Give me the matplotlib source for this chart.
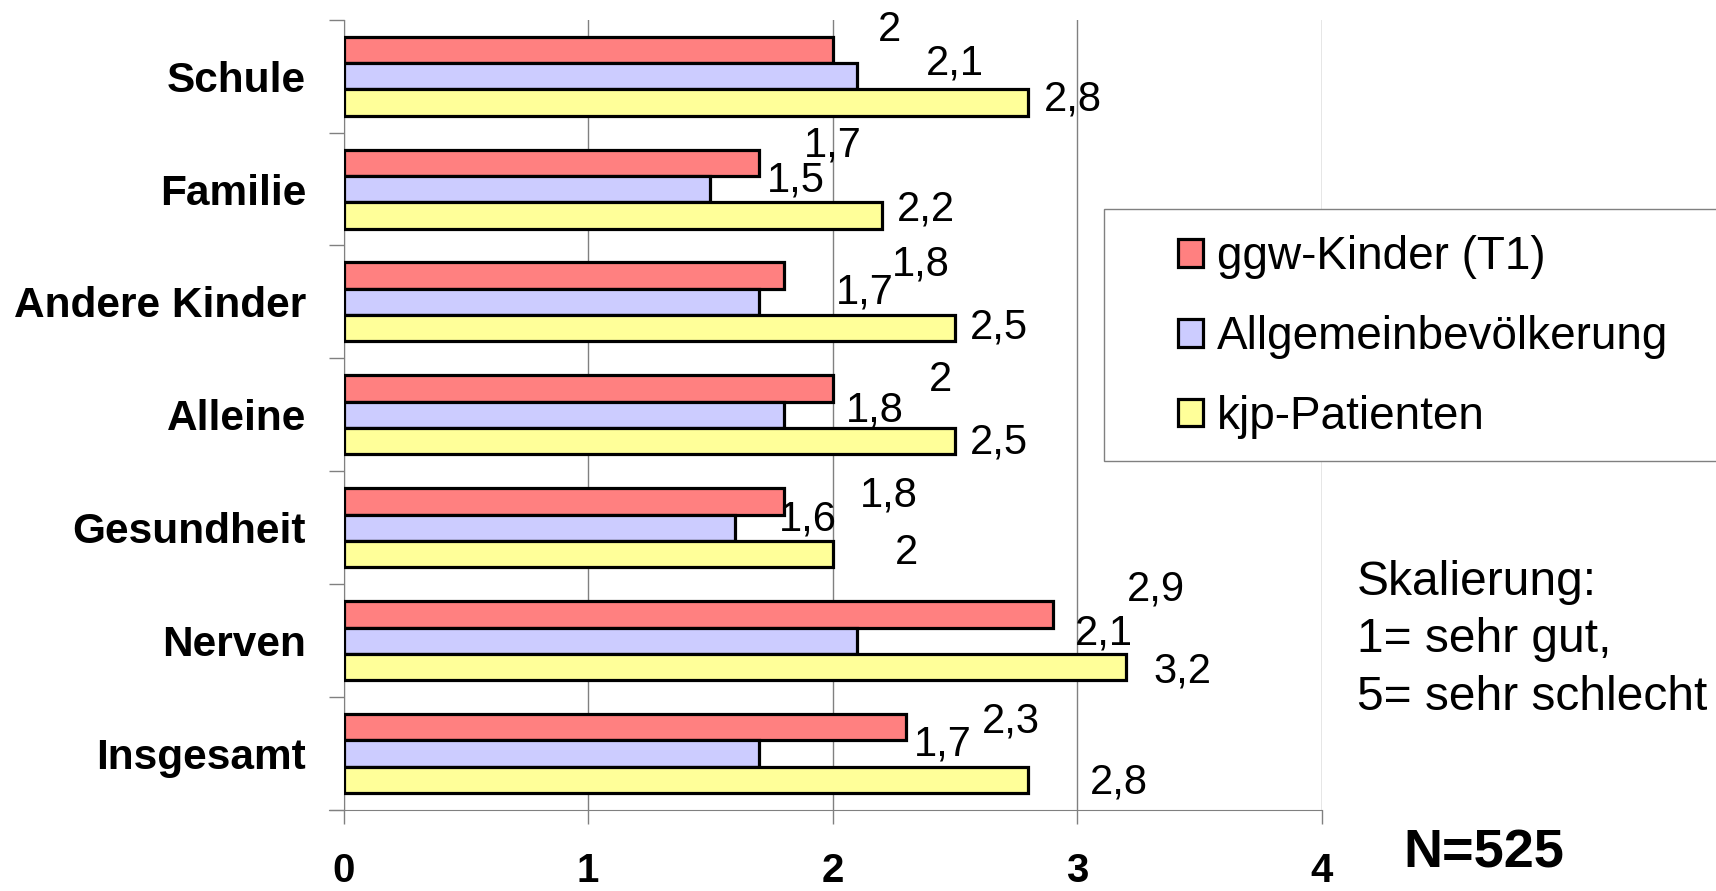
import numpy as np
import matplotlib
matplotlib.use("Agg")
import matplotlib.pyplot as plt
from matplotlib.patches import Rectangle

plt.rcParams['font.family'] = ['Liberation Sans', 'DejaVu Sans']

# data
categories = ["Schule", "Familie", "Andere Kinder", "Alleine", "Gesundheit", "Nerven", "Insgesamt"]
ggw = [2.0, 1.7, 1.8, 2.0, 1.8, 2.9, 2.3]
allg = [2.1, 1.5, 1.7, 1.8, 1.6, 2.1, 1.7]
kjp = [2.8, 2.2, 2.5, 2.5, 2.0, 3.2, 2.8]
series_names = ["ggw-Kinder (T1)", "Allgemeinbevölkerung", "kjp-Patienten"]
xticks = [0, 1, 2, 3, 4]

# label offsets (x in data units, y in category units) - the labels are scattered like in excel
lab_dx = [[0.23, 0.30, 0.56, 0.44, 0.43, 0.42, 0.43],
          [0.40, 0.35, 0.43, 0.37, 0.30, 1.01, 0.75],
          [0.18, 0.18, 0.18, 0.18, 0.30, 0.23, 0.37]]
lab_dy = [[-0.18, -0.15, -0.10, -0.08, -0.05, -0.22, -0.05],
          [-0.11, -0.08, -0.08, -0.04, -0.07, -0.06, -0.08],
          [-0.03, -0.05, -0.01, 0.01, -0.01, 0.04, 0.02]]

colors = ["#FF8080", "#CCCCFF", "#FFFF99"]

fig = plt.figure(figsize=(17.16, 8.91), dpi=100)
ax = fig.add_axes([0.2002, 0.0909, 0.5702, 0.887])

y = np.arange(len(categories))
h = 0.233
for k, vals in enumerate([ggw, allg, kjp]):
    pos = y + (k - 1) * h
    ax.barh(pos, vals, height=h, color=colors[k], edgecolor="black",
            linewidth=2.3, label=series_names[k], zorder=3)
    for i, v in enumerate(vals):
        txt = ("%g" % v).replace(".", ",")
        ax.text(v + lab_dx[k][i], pos[i] + lab_dy[k][i], txt, ha="center",
                va="center", fontsize=30, zorder=4)

ax.set_xlim(0, 4)
ax.set_ylim(6.5, -0.5)
ax.set_xticks(xticks)
ax.set_xticklabels([str(t) for t in xticks], fontsize=29, fontweight="bold")
ax.set_yticks(y)
ax.set_yticklabels(categories, fontsize=30.5, fontweight="bold")
ax.set_yticks(np.arange(-0.5, 7, 1), minor=True)
ax.tick_params(axis="y", which="major", length=0, pad=27)
ax.tick_params(axis="y", which="minor", length=11, width=1, color="#808080", direction="out")
ax.tick_params(axis="x", length=10, width=1, color="#808080", pad=20)

ax.grid(axis="x", color="#808080", linewidth=1, zorder=0)
for s in ["top", "right"]:
    ax.spines[s].set_visible(False)
ax.spines["left"].set_color("#808080")
ax.spines["bottom"].set_color("#808080")
ax.spines["bottom"].set_bounds(-0.06, 4)

# legend box runs off the right edge
fig.patches.append(Rectangle((1104 / 1716, 1 - 461 / 891), 0.5, (461 - 209) / 891,
                             transform=fig.transFigure, facecolor="white",
                             edgecolor="#808080", linewidth=1, zorder=5))
leg = fig.legend(loc="upper left", bbox_to_anchor=(1137 / 1716, 1 - 194 / 891),
                 frameon=False, fontsize=33, handlelength=0.55, handleheight=0.55,
                 handletextpad=0.3, labelspacing=0.78)
leg.set_zorder(6)
for p in leg.get_patches():
    p.set_linewidth(2.3)

fig.text(1357 / 1716, 1 - 640 / 891, "Skalierung:\n1= sehr gut,\n5= sehr schlecht",
         ha="left", va="center", fontsize=34.5, linespacing=1.35)
fig.text(1484 / 1716, 1 - 853 / 891, "N=525", ha="center", va="center",
         fontsize=39, fontweight="bold")

fig.savefig("out.png", dpi=100)
